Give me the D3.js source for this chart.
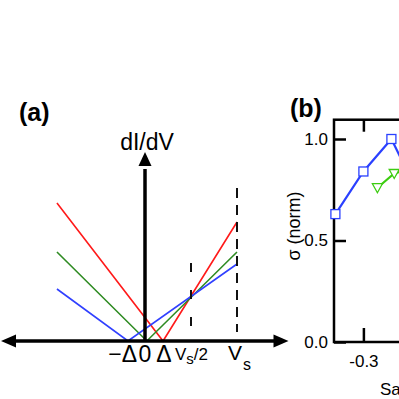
<!DOCTYPE html>
<html>
<head>
<meta charset="utf-8">
<script src="https://cdn.jsdelivr.net/npm/d3@7"></script>
<style>
  body { margin: 0; background: #fff; }
  svg { display: block; font-family: Arial, "Liberation Sans", Helvetica, sans-serif; }
</style>
</head>
<body>
<svg id="chart" width="399" height="399"></svg>
<script>
// panel (a): sketch of dI/dV, x in units of Vs, y arbitrary
const redLine = [[-0.957, 1.38], [0.196, 0], [1, 1.19]];
const greenLine = [[-0.957, 0.89], [0.02, 0], [1, 0.89]];
const blueLine = [[-0.957, 0.52], [-0.185, 0], [1, 0.77]];
const dashHalf = [0.5, 0.14, 0.78];   // x, y0, y1
const dashFull = [1, 0.09, 1.53];
const aTickValues = [-0.19, 0, 0.19, 0.5, 1];

// panel (b): sigma (norm) vs sample bias
const blueX = [-0.4, -0.3, -0.2, -0.1];
const blueY = [0.63, 0.84, 1.0, 0.72];
const greenX = [-0.25, -0.19, -0.12];
const greenY = [0.76, 0.83, 0.86];
const bYTicks = [0, 0.5, 1.0];
const bXTicks = [-0.3, 0, 0.3];

const svg = d3.select("#chart");

// ---------- panel (a)
let xa = d3.scaleLinear().domain([0, 1]).range([145, 237]);
let ya = d3.scaleLinear().domain([0, 1]).range([341, 241]);

let line = d3.line().x(d => xa(d[0])).y(d => ya(d[1]));

let series = [
  {data: redLine, color: "#ff1a1a"},
  {data: greenLine, color: "#2e8b22"},
  {data: blueLine, color: "#3040ff"}
];

svg.selectAll("path.curve")
  .data(series)
  .enter()
    .append("path")
    .attr("class", "curve")
    .attr("d", d => line(d.data))
    .attr("fill", "none")
    .attr("stroke", d => d.color)
    .attr("stroke-width", 1.6);

// dashed guides
svg.append("line")
  .attr("x1", xa(dashHalf[0])).attr("x2", xa(dashHalf[0]))
  .attr("y1", ya(dashHalf[2])).attr("y2", ya(dashHalf[1]))
  .attr("stroke", "#111").attr("stroke-width", 2)
  .attr("stroke-dasharray", "9,18");
svg.append("line")
  .attr("x1", xa(dashFull[0])).attr("x2", xa(dashFull[0]))
  .attr("y1", ya(dashFull[2])).attr("y2", ya(dashFull[1]))
  .attr("stroke", "#111").attr("stroke-width", 2)
  .attr("stroke-dasharray", "10,7");

// axes with arrowheads
let x0 = xa(0), y0 = ya(0);
svg.append("line")
  .attr("x1", xa(-1.45)).attr("x2", xa(1.45))
  .attr("y1", y0).attr("y2", y0)
  .attr("stroke", "#000").attr("stroke-width", 3.5);
svg.append("line")
  .attr("x1", x0).attr("x2", x0)
  .attr("y1", y0).attr("y2", ya(1.72))
  .attr("stroke", "#000").attr("stroke-width", 3.5);

let lx = xa(-1.565), rx = xa(1.56), ty = ya(1.89);
svg.append("path")
  .attr("d", `M${lx},${y0} L${lx + 15},${y0 - 6.5} L${lx + 15},${y0 + 6.5} Z`);
svg.append("path")
  .attr("d", `M${rx},${y0} L${rx - 15},${y0 - 6.5} L${rx - 15},${y0 + 6.5} Z`);
svg.append("path")
  .attr("d", `M${x0},${ty} L${x0 - 6.5},${ty + 14} L${x0 + 6.5},${ty + 14} Z`);

svg.append("text")
  .attr("x", x0 + 2).attr("y", 150)
  .attr("text-anchor", "middle")
  .style("font-size", "23px")
  .text("dI/dV");

svg.append("text")
  .attr("x", 19).attr("y", 121)
  .style("font-size", "25px").style("font-weight", "bold")
  .text("(a)");

// tick labels on the bias axis
let labY = 362;
svg.append("text")
  .attr("x", xa(aTickValues[0]) + 9.5).attr("y", labY)
  .attr("text-anchor", "end").style("font-size", "23px")
  .text("\u2212\u0394");
svg.append("text")
  .attr("x", xa(aTickValues[1])).attr("y", labY)
  .attr("text-anchor", "middle").style("font-size", "23px")
  .text("0");
svg.append("text")
  .attr("x", xa(aTickValues[2]) + 1.5).attr("y", labY)
  .attr("text-anchor", "middle").style("font-size", "23px")
  .text("\u0394");

let half = svg.append("text")
  .attr("x", xa(aTickValues[3]) - 16).attr("y", 360)
  .style("font-size", "17px");
half.append("tspan").text("V");
half.append("tspan").attr("dy", 4).style("font-size", "15px").text("s");
half.append("tspan").attr("dy", -4).text("/2");

let full = svg.append("text")
  .attr("x", xa(aTickValues[4]) - 9).attr("y", 360)
  .style("font-size", "21px");
full.append("tspan").text("V");
full.append("tspan").attr("dy", 10).attr("dx", 1).style("font-size", "16px").text("s");

// ---------- panel (b)
let xb = d3.scaleLinear().domain([-0.405, 0.4]).range([334, 559.4]);
let yb = d3.scaleLinear().domain([0, 1]).range([342, 139]);
let yTop = yb(1.095);

svg.append("rect")
  .attr("x", xb(-0.405)).attr("y", yTop)
  .attr("width", xb(0.4) - xb(-0.405)).attr("height", yb(0) - yTop)
  .attr("fill", "none").attr("stroke", "#000").attr("stroke-width", 2.5);

let fmt = d => d.toFixed(1);

let leftAxis = svg.append("g")
  .attr("transform", `translate(${xb(-0.405)},0)`)
  .call(d3.axisLeft(yb).tickValues(bYTicks).tickSize(-12).tickPadding(6).tickFormat(fmt));
let bottomAxis = svg.append("g")
  .attr("transform", `translate(0,${yb(0)})`)
  .call(d3.axisBottom(xb).tickValues(bXTicks).tickSize(-14).tickPadding(13).tickFormat(fmt));
let topAxis = svg.append("g")
  .attr("transform", `translate(0,${yTop})`)
  .call(d3.axisTop(xb).tickValues(bXTicks).tickSize(-12).tickFormat(""));

[leftAxis, bottomAxis, topAxis].forEach(g => {
  g.select(".domain").remove();
  g.selectAll(".tick line").attr("stroke", "#000").attr("stroke-width", 2.5);
  g.selectAll(".tick text")
    .attr("fill", "#000")
    .style("font-size", "17px")
    .style("font-family", "Arial, 'Liberation Sans', Helvetica, sans-serif");
});

svg.append("text")
  .attr("transform", "translate(300,226) rotate(-90)")
  .attr("text-anchor", "middle")
  .style("font-size", "18px")
  .text("\u03c3 (norm)");

svg.append("text")
  .attr("x", 380).attr("y", 395)
  .style("font-size", "17px")
  .text("Sample bias (V)");

svg.append("text")
  .attr("x", 290).attr("y", 117)
  .style("font-size", "25px").style("font-weight", "bold")
  .text("(b)");

let blueData = blueX.map((x, i) => [x, blueY[i]]);
let greenData = greenX.map((x, i) => [x, greenY[i]]);
let lineB = d3.line().x(d => xb(d[0])).y(d => yb(d[1]));

svg.append("path")
  .attr("d", lineB(blueData))
  .attr("fill", "none").attr("stroke", "#2a40ff").attr("stroke-width", 2.2);
svg.selectAll("rect.sq")
  .data(blueData)
  .enter()
    .append("rect")
    .attr("class", "sq")
    .attr("x", d => xb(d[0]) - 4.5).attr("y", d => yb(d[1]) - 4.5)
    .attr("width", 9).attr("height", 9)
    .attr("fill", "#fff").attr("stroke", "#2a40ff").attr("stroke-width", 1.3);

svg.append("path")
  .attr("d", lineB(greenData))
  .attr("fill", "none").attr("stroke", "#3ccc10").attr("stroke-width", 2.2);
svg.selectAll("path.tri")
  .data(greenData)
  .enter()
    .append("path")
    .attr("class", "tri")
    .attr("d", d => {
      let cx = xb(d[0]), cy = yb(d[1]);
      return `M${cx - 5},${cy - 4} L${cx + 5},${cy - 4} L${cx},${cy + 5} Z`;
    })
    .attr("fill", "#fff").attr("stroke", "#3ccc10").attr("stroke-width", 1.3);
</script>
</body>
</html>
